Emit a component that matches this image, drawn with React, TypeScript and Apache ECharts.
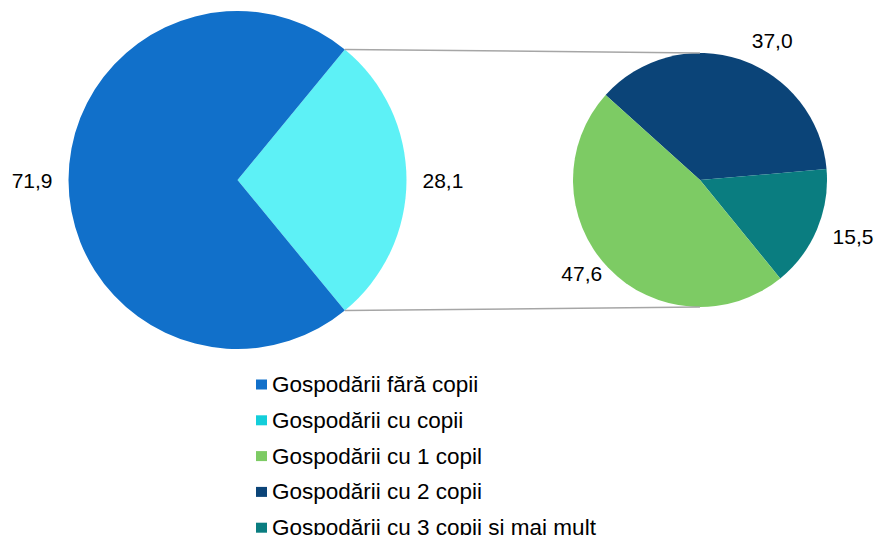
import React, { useEffect, useRef } from "react";
import * as echarts from "echarts";

const mainNames = ["Gospodării fără copii", "Gospodării cu copii"];
const mainValues = [71.9, 28.1];
const mainColors = ["#1170CA", "#5DF1F6"];

const subNames = ["Gospodării cu 1 copil", "Gospodării cu 2 copii", "Gospodării cu 3 copii și mai mult"];
const subValues = [47.6, 37.0, 15.5];
const subColors = ["#7DCB64", "#0B4478", "#0A7D80"];

const legendNames = [...mainNames, ...subNames];
const legendIconColors = ["#1170CA", "#13CEDA", "#7DCB64", "#0B4478", "#0A7D80"];

const FONT = "'Liberation Sans', Arial, sans-serif";

export default function App() {
  const ref = useRef<HTMLDivElement>(null);
  useEffect(() => {
    if (!ref.current) return;
    const chart = echarts.init(ref.current, null, { renderer: "svg" });

    const L = { cx: 237.5, cy: 180, r: 169 };
    const R = { cx: 700, cy: 180, r: 127 };
    const total = mainValues.reduce((a, b) => a + b, 0);
    const half = (mainValues[1] / total) * 180; // cyan slice centred at 0°
    const rad = (half * Math.PI) / 180;
    const p1 = [L.cx + L.r * Math.cos(rad), L.cy - L.r * Math.sin(rad)];
    const p2 = [L.cx + L.r * Math.cos(rad), L.cy + L.r * Math.sin(rad)];

    const fmt = (p: any) => Number(p.value).toFixed(1).replace(".", ",");

    const labelBase = {
      show: true,
      position: "outside",
      formatter: fmt,
      color: "#000",
      fontSize: 21,
      fontFamily: FONT,
    };

    // left pie: cyan first then blue
    const leftData = [
      { name: mainNames[1], value: mainValues[1], itemStyle: { color: mainColors[1] } },
      { name: mainNames[0], value: mainValues[0], itemStyle: { color: mainColors[0] } },
    ];

    const rightOpts: Record<string, any> = {
      "Gospodării cu 2 copii": { len: 20, dist: 5 },
      "Gospodării cu 3 copii și mai mult": { len: 17, dist: 0 },
      "Gospodării cu 1 copil": { len: 8, dist: 0 },
    };
    const rightOrder = [1, 2, 0];
    const rightData = rightOrder.map((i) => ({
      name: subNames[i],
      value: subValues[i],
      itemStyle: { color: subColors[i] },
      label: { distanceToLabelLine: rightOpts[subNames[i]].dist },
      labelLine: { show: false, length: rightOpts[subNames[i]].len, length2: 0 },
    }));

    chart.setOption({
      animation: false,
      backgroundColor: "#fff",
      legend: {
        orient: "vertical",
        left: 256,
        top: 373,
        height: 400,
        padding: 0,
        itemWidth: 11,
        itemHeight: 10,
        itemGap: 12.8,
        icon: "rect",
        selectedMode: false,
        textStyle: { fontSize: 22.5, fontFamily: FONT, color: "#000" },
        data: legendNames.map((n, i) => ({ name: n, itemStyle: { color: legendIconColors[i] } })),
      },
      series: [
        {
          type: "pie",
          center: [L.cx, L.cy],
          radius: [0, L.r],
          startAngle: half,
          clockwise: true,
          avoidLabelOverlap: false,
          label: { ...labelBase, distanceToLabelLine: 5 },
          labelLine: { show: false, length: 11, length2: 0 },
          emphasis: { disabled: true },
          data: leftData,
        },
        {
          type: "pie",
          center: [R.cx, R.cy],
          radius: [0, R.r],
          startAngle: 138,
          clockwise: true,
          avoidLabelOverlap: false,
          label: { ...labelBase },
          labelLine: { show: false, length: 10, length2: 0 },
          emphasis: { disabled: true },
          data: rightData,
        },
      ],
      graphic: [
        {
          type: "line",
          shape: { x1: p1[0], y1: p1[1], x2: R.cx, y2: R.cy - R.r },
          style: { stroke: "#A6A6A6", lineWidth: 1.5 },
          z: 10,
        },
        {
          type: "line",
          shape: { x1: p2[0], y1: p2[1], x2: R.cx, y2: R.cy + R.r },
          style: { stroke: "#A6A6A6", lineWidth: 1.5 },
          z: 10,
        },
      ],
    });
    return () => chart.dispose();
  }, []);
  return (
    <div
      ref={ref}
      style={{ position: "fixed", left: 0, top: 0, width: 874, height: 535, background: "#fff" }}
    />
  );
}
